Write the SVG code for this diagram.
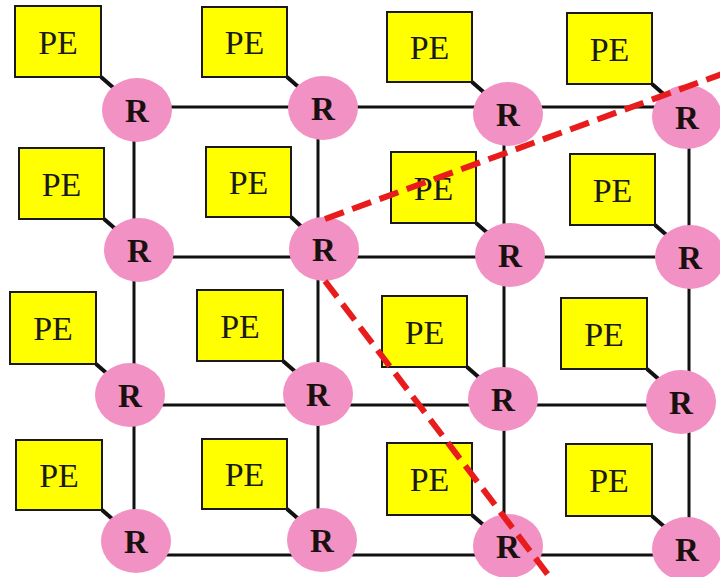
<svg xmlns="http://www.w3.org/2000/svg" width="720" height="577" viewBox="0 0 720 577">
<style>
.pe rect{fill:#ffff00;stroke:#1a1a1a;stroke-width:2}
.pe text{font-family:'Liberation Serif','Times New Roman',Tinos,serif;font-size:34px;fill:#1a1a1a;text-anchor:middle}
.r ellipse{fill:#f291c3}
.r text{font-family:'Liberation Serif','Times New Roman',Tinos,serif;font-size:33px;font-weight:bold;fill:#1a1010;text-anchor:middle}
.grid line{stroke:#111;stroke-width:3}
.link line{stroke:#111;stroke-width:4}
.cut line{stroke:#e81c1c;stroke-width:6;stroke-dasharray:20 9}
</style>
<rect width="720" height="577" fill="#ffffff"/>
<g id="connectors">
<g class="grid">
<line x1="134" y1="107" x2="689" y2="107"/>
<line x1="134" y1="257" x2="689" y2="257"/>
<line x1="134" y1="405" x2="689" y2="405"/>
<line x1="134" y1="555" x2="689" y2="555"/>
<line x1="134" y1="107" x2="134" y2="555"/>
<line x1="318" y1="107" x2="318" y2="555"/>
<line x1="504" y1="107" x2="504" y2="555"/>
<line x1="689" y1="107" x2="689" y2="555"/>
</g>
<g class="link">
<line x1="101" y1="77" x2="116" y2="90"/>
<line x1="287" y1="77" x2="302" y2="90"/>
<line x1="472" y1="82" x2="487" y2="95"/>
<line x1="652" y1="84" x2="667" y2="97"/>
<line x1="104" y1="219" x2="119" y2="232"/>
<line x1="291" y1="217" x2="305" y2="230"/>
<line x1="476" y1="223" x2="491" y2="236"/>
<line x1="655" y1="225" x2="670" y2="238"/>
<line x1="96" y1="364" x2="111" y2="377"/>
<line x1="283" y1="361" x2="298" y2="374"/>
<line x1="467" y1="367" x2="482" y2="380"/>
<line x1="647" y1="369" x2="662" y2="382"/>
<line x1="102" y1="510" x2="117" y2="523"/>
<line x1="287" y1="509" x2="302" y2="522"/>
<line x1="472" y1="515" x2="487" y2="528"/>
<line x1="652" y1="516" x2="667" y2="529"/>
</g>
</g>
<g id="pe-0-0" class="pe"><rect x="15" y="6" width="86" height="71"/><text x="58" y="53.5">PE</text></g>
<g id="pe-0-1" class="pe"><rect x="202" y="7" width="85" height="70"/><text x="244.5" y="54">PE</text></g>
<g id="pe-0-2" class="pe"><rect x="387" y="12" width="85" height="70"/><text x="429.5" y="59">PE</text></g>
<g id="pe-0-3" class="pe"><rect x="567" y="13" width="85" height="71"/><text x="609.5" y="60.5">PE</text></g>
<g id="pe-1-0" class="pe"><rect x="19" y="148" width="85" height="71"/><text x="61.5" y="195.5">PE</text></g>
<g id="pe-1-1" class="pe"><rect x="206" y="147" width="85" height="70"/><text x="248.5" y="194">PE</text></g>
<g id="pe-1-2" class="pe"><rect x="391" y="152" width="85" height="71"/><text x="433.5" y="199.5">PE</text></g>
<g id="pe-1-3" class="pe"><rect x="570" y="154" width="85" height="71"/><text x="612.5" y="201.5">PE</text></g>
<g id="pe-2-0" class="pe"><rect x="10" y="292" width="86" height="72"/><text x="53" y="340">PE</text></g>
<g id="pe-2-1" class="pe"><rect x="197" y="290" width="86" height="71"/><text x="240" y="337.5">PE</text></g>
<g id="pe-2-2" class="pe"><rect x="382" y="296" width="85" height="71"/><text x="424.5" y="343.5">PE</text></g>
<g id="pe-2-3" class="pe"><rect x="561" y="298" width="86" height="71"/><text x="604" y="345.5">PE</text></g>
<g id="pe-3-0" class="pe"><rect x="16" y="440" width="86" height="70"/><text x="59" y="487">PE</text></g>
<g id="pe-3-1" class="pe"><rect x="202" y="439" width="85" height="70"/><text x="244.5" y="486">PE</text></g>
<g id="pe-3-2" class="pe"><rect x="387" y="443" width="85" height="72"/><text x="429.5" y="491">PE</text></g>
<g id="pe-3-3" class="pe"><rect x="566" y="444" width="86" height="72"/><text x="609" y="492">PE</text></g>
<g id="r-0-0" class="r"><ellipse cx="137" cy="110" rx="35" ry="32"/><text x="137" y="122">R</text></g>
<g id="r-0-1" class="r"><ellipse cx="323" cy="108" rx="35" ry="32"/><text x="323" y="120">R</text></g>
<g id="r-0-2" class="r"><ellipse cx="508" cy="114" rx="35" ry="32"/><text x="508" y="126">R</text></g>
<g id="r-0-3" class="r"><ellipse cx="687" cy="117" rx="35" ry="32"/><text x="687" y="129">R</text></g>
<g id="r-1-0" class="r"><ellipse cx="139" cy="250" rx="35" ry="32"/><text x="139" y="262">R</text></g>
<g id="r-1-1" class="r"><ellipse cx="324" cy="249" rx="35" ry="32"/><text x="324" y="261">R</text></g>
<g id="r-1-2" class="r"><ellipse cx="510" cy="255" rx="35" ry="32"/><text x="510" y="267">R</text></g>
<g id="r-1-3" class="r"><ellipse cx="690" cy="257" rx="35" ry="32"/><text x="690" y="269">R</text></g>
<g id="r-2-0" class="r"><ellipse cx="130" cy="395" rx="35" ry="32"/><text x="130" y="407">R</text></g>
<g id="r-2-1" class="r"><ellipse cx="318" cy="394" rx="35" ry="32"/><text x="318" y="406">R</text></g>
<g id="r-2-2" class="r"><ellipse cx="503" cy="399" rx="35" ry="32"/><text x="503" y="411">R</text></g>
<g id="r-2-3" class="r"><ellipse cx="681" cy="402" rx="35" ry="32"/><text x="681" y="414">R</text></g>
<g id="r-3-0" class="r"><ellipse cx="136" cy="541" rx="35" ry="32"/><text x="136" y="553">R</text></g>
<g id="r-3-1" class="r"><ellipse cx="322" cy="540" rx="35" ry="32"/><text x="322" y="552">R</text></g>
<g id="r-3-2" class="r"><ellipse cx="508" cy="546" rx="35" ry="32"/><text x="508" y="558">R</text></g>
<g id="r-3-3" class="r"><ellipse cx="687" cy="549" rx="35" ry="32"/><text x="687" y="561">R</text></g>
<g id="cut-lines" class="cut">
<line x1="325" y1="219" x2="722" y2="74"/>
<line x1="325" y1="281" x2="552" y2="580"/>
</g>
</svg>
